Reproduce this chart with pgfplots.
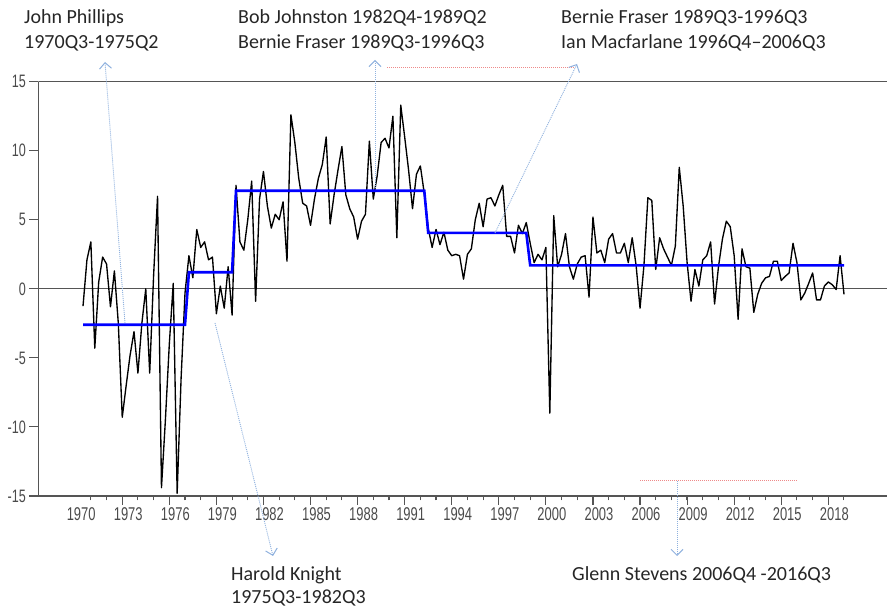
\documentclass[border=0pt]{standalone}
\usepackage{fontspec}
\usepackage{pgfplots}
\pgfplotsset{compat=1.18}
\usepackage{pgfplotstable}
\usetikzlibrary{arrows.meta}
\setmainfont{Carlito}
\newfontfamily\ticksfont[FakeStretch=0.7]{Liberation Sans}

\definecolor{axisgray}{HTML}{555555}
\definecolor{ticktext}{HTML}{4A4A4A}
\definecolor{notetext}{HTML}{262626}
\definecolor{arrowblue}{HTML}{8FB1DE}
\definecolor{notered}{HTML}{EE8A8A}
\definecolor{meanblue}{HTML}{0000FF}

% quarterly series, 1970Q3 - 2019Q1
\pgfplotstableread{
t v
1970.50 -1.25
1970.75 2.1
1971.00 3.4
1971.25 -4.3
1971.50 0.5
1971.75 2.3
1972.00 1.8
1972.25 -1.3
1972.50 1.3
1972.75 -2.5
1973.00 -9.3
1973.25 -7.0
1973.50 -4.8
1973.75 -3.1
1974.00 -6.1
1974.25 -2.5
1974.50 0.0
1974.75 -6.1
1975.00 1.0
1975.25 6.7
1975.50 -14.4
1975.75 -9.5
1976.00 -4.0
1976.25 0.4
1976.50 -14.8
1976.75 -6.5
1977.00 -0.3
1977.25 2.4
1977.50 0.8
1977.75 4.3
1978.00 3.0
1978.25 3.4
1978.50 2.1
1978.75 2.3
1979.00 -1.8
1979.25 0.2
1979.50 -1.4
1979.75 1.6
1980.00 -1.9
1980.25 7.5
1980.50 3.4
1980.75 2.8
1981.00 5.0
1981.25 7.8
1981.50 -0.9
1981.75 6.5
1982.00 8.5
1982.25 6.0
1982.50 4.4
1982.75 5.4
1983.00 5.0
1983.25 6.3
1983.50 2.0
1983.75 12.6
1984.00 10.6
1984.25 8.0
1984.50 6.2
1984.75 6.0
1985.00 4.6
1985.25 6.5
1985.50 8.0
1985.75 9.0
1986.00 11.0
1986.25 4.7
1986.50 6.8
1986.75 8.6
1987.00 10.3
1987.25 6.8
1987.50 5.8
1987.75 5.2
1988.00 3.6
1988.25 4.9
1988.50 5.4
1988.75 10.7
1989.00 6.5
1989.25 8.2
1989.50 10.6
1989.75 10.9
1990.00 10.2
1990.25 12.5
1990.50 3.7
1990.75 13.3
1991.00 11.0
1991.25 8.6
1991.50 5.8
1991.75 8.3
1992.00 8.9
1992.25 6.9
1992.50 4.4
1992.75 3.0
1993.00 4.3
1993.25 3.2
1993.50 4.1
1993.75 2.8
1994.00 2.4
1994.25 2.5
1994.50 2.4
1994.75 0.7
1995.00 2.5
1995.25 2.9
1995.50 5.0
1995.75 6.2
1996.00 4.5
1996.25 6.5
1996.50 6.6
1996.75 6.0
1997.00 6.8
1997.25 7.5
1997.50 3.8
1997.75 3.8
1998.00 2.6
1998.25 4.6
1998.50 4.0
1998.75 4.8
1999.00 3.3
1999.25 1.9
1999.50 2.5
1999.75 2.1
2000.00 3.0
2000.25 -9.0
2000.50 5.3
2000.75 1.6
2001.00 2.5
2001.25 4.0
2001.50 1.6
2001.75 0.7
2002.00 1.8
2002.25 2.3
2002.50 2.4
2002.75 -0.6
2003.00 5.2
2003.25 2.6
2003.50 2.8
2003.75 1.9
2004.00 3.6
2004.25 4.0
2004.50 2.6
2004.75 2.6
2005.00 3.3
2005.25 1.9
2005.50 3.7
2005.75 1.7
2006.00 -1.4
2006.25 1.7
2006.50 6.6
2006.75 6.4
2007.00 1.4
2007.25 3.7
2007.50 2.9
2007.75 2.3
2008.00 1.7
2008.25 3.1
2008.50 8.8
2008.75 6.0
2009.00 1.9
2009.25 -0.9
2009.50 1.4
2009.75 0.2
2010.00 2.1
2010.25 2.4
2010.50 3.4
2010.75 -1.1
2011.00 1.6
2011.25 3.6
2011.50 4.9
2011.75 4.5
2012.00 2.4
2012.25 -2.2
2012.50 2.9
2012.75 1.6
2013.00 1.5
2013.25 -1.7
2013.50 -0.4
2013.75 0.4
2014.00 0.8
2014.25 0.9
2014.50 2.0
2014.75 2.0
2015.00 0.6
2015.25 0.9
2015.50 1.15
2015.75 3.3
2016.00 1.9
2016.25 -0.8
2016.50 -0.3
2016.75 0.4
2017.00 1.15
2017.25 -0.8
2017.50 -0.8
2017.75 0.2
2018.00 0.5
2018.25 0.3
2018.50 -0.05
2018.75 2.4
2019.00 -0.4
}\growth

% regime means
\pgfplotstableread{
t v
1970.50 -2.6
1977.00 -2.6
1977.25 1.2
1980.00 1.2
1980.25 7.1
1992.25 7.1
1992.50 4.05
1998.75 4.05
1999.00 1.7
2019.00 1.7
}\regimes

\begin{document}
\begin{tikzpicture}
\useasboundingbox (0,0) rectangle (887pt,608pt);
\begin{axis}[
  at={(38.3pt,112pt)}, anchor=south west, scale only axis,
  width=848.7pt, height=414.3pt,
  xmin=1967.65, xmax=2021.74, ymin=-15, ymax=15,
  axis x line*=bottom, axis y line*=left,
  axis line style={-, draw=axisgray, line width=1.4pt},
  tick align=outside,
  tick style={draw=axisgray, line width=1.1pt},
  major tick length=9pt, minor tick length=4.5pt,
  xtick={1973,1976,...,2018},
  xticklabels={1973,1976,1979,1982,1985,1988,1991,1994,1997,2000,2003,2006,2009,2012,2015,2018},
  minor xtick={1971,1972,...,2019},
  extra x ticks={1970},
  extra x tick labels={1970},
  extra x tick style={tick style={draw=none}},
  ytick={-15,-10,...,15},
  yticklabels={-15,-10,-5,0,5,10,15},
  x tick label style={font=\ticksfont\fontsize{18.5}{20}\selectfont, text=ticktext, xshift=6pt, yshift=1pt},
  y tick label style={font=\ticksfont\fontsize{18}{20}\selectfont, text=ticktext},
]
\draw[axisgray, line width=1.3pt] (rel axis cs:0,0.5) -- (rel axis cs:1,0.5);
\draw[axisgray, line width=1.4pt] (rel axis cs:0,1) -- (rel axis cs:1,1);
\addplot[black, line width=1.35pt, line join=round] table[x=t, y=v] {\growth};
\addplot[meanblue, line width=2.6pt] table[x=t, y=v] {\regimes};
\end{axis}

% notes and pointers, in picture units measured from the top-left corner
\begin{scope}[x=1pt, y=-1pt, shift={(0pt,608pt)}]
  \tikzset{pointer/.style={arrowblue, line width=0.9pt, dash pattern=on 1pt off 1pt,
      -{Straight Barb[length=6pt, width=12pt, line width=1pt]}},
    span/.style={notered, line width=1pt, dash pattern=on 1pt off 1pt},
    note/.style={anchor=base west, inner sep=0pt, text=notetext,
      font=\fontsize{20}{24}\selectfont}}
  \draw[span] (387,68) -- (575,68);
  \draw[span] (640,481) -- (798,481);
  \draw[pointer] (125,323) -- (105,62);
  \draw[pointer] (215,323) -- (273,556);
  \draw[pointer] (375,188) -- (375,60);
  \draw[pointer] (495,233) -- (577,64);
  \draw[pointer] (677,481) -- (677,556);
  \node[note] at (24,24) {John Phillips};
  \node[note] at (24,49) {1970Q3-1975Q2};
  \node[note] at (238,24) {Bob Johnston 1982Q4-1989Q2};
  \node[note] at (238,49) {Bernie Fraser 1989Q3-1996Q3};
  \node[note] at (561,24) {Bernie Fraser 1989Q3-1996Q3};
  \node[note] at (561,49) {Ian Macfarlane 1996Q4–2006Q3};
  \node[note] at (231,581) {Harold Knight};
  \node[note] at (231,604) {1975Q3-1982Q3};
  \node[note] at (572,581) {Glenn Stevens 2006Q4 -2016Q3};
\end{scope}
\end{tikzpicture}
\end{document}
